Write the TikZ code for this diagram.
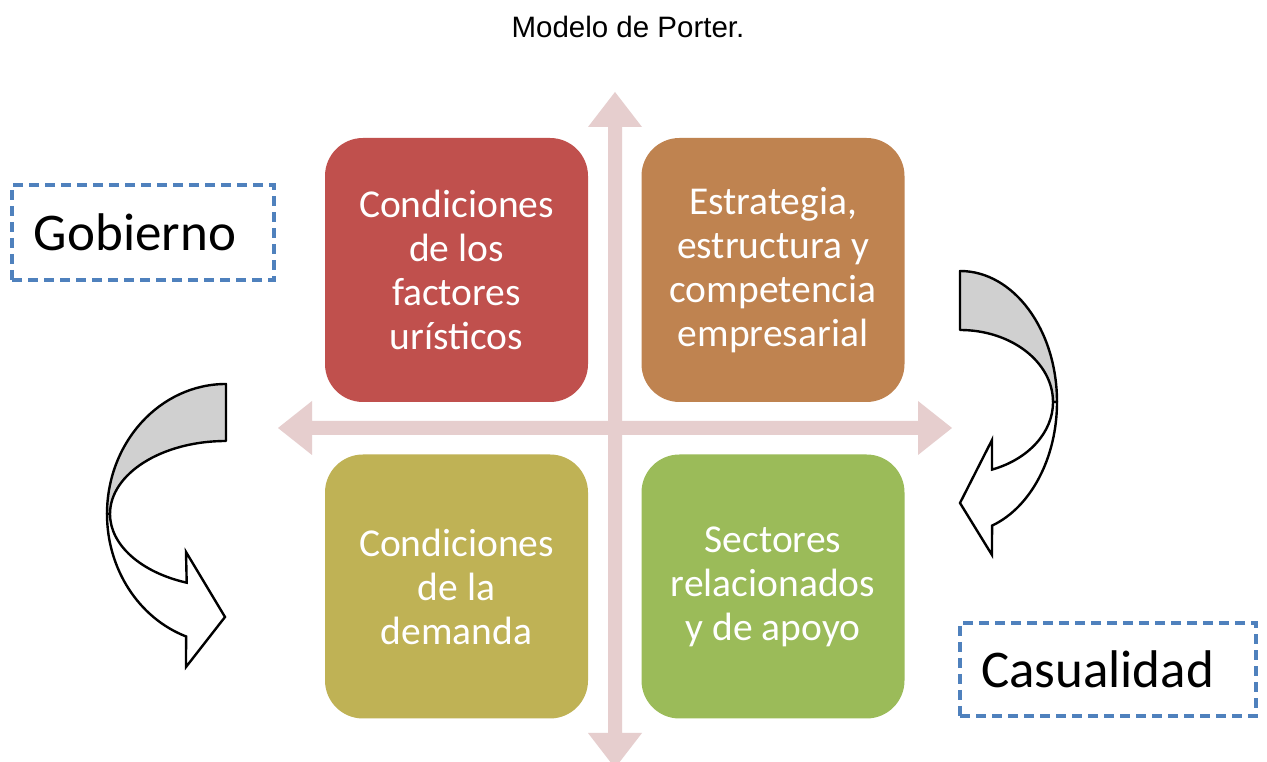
\documentclass[tikz,border=0pt]{standalone}
\usepackage{fontspec}
\setmainfont{Carlito}
\newfontfamily\arialfont{Liberation Sans}
\definecolor{qred}{HTML}{C0504D}
\definecolor{qorange}{HTML}{BF8350}
\definecolor{qolive}{HTML}{BFB255}
\definecolor{qgreen}{HTML}{9BBB59}
\definecolor{qpink}{HTML}{E6CECE}
\definecolor{qblue}{HTML}{4F81BD}
\definecolor{qgray}{HTML}{D0D0D0}
\begin{document}
\begin{tikzpicture}[x=1pt,y=1pt,
  quad/.style={rounded corners=38pt, minimum width=263pt, minimum height=264pt, inner sep=0pt,
    text=white, align=center, font=\fontsize{39.5}{44}\selectfont},
  dbox/.style={draw=qblue, line width=3.2pt, dash pattern=on 10pt off 6pt, align=left,
    inner ysep=0pt, font=\fontsize{53}{58}\selectfont},
  cross/.style={fill=qpink},
  curvback/.style={fill=qgray, draw=black, line width=2.4pt, line join=round},
  curvfront/.style={fill=white, draw=black, line width=2.4pt, line join=miter}
]
\useasboundingbox (0,0) rectangle (1267,762);
\clip (0,0) rectangle (1267,762);
\fill[white] (0,0) rectangle (1267,762);

% title
\node[font=\arialfont\fontsize{29.5}{33}\selectfont] (title) at (628,735) {Modelo de Porter.};

% cross arrows
\fill[cross] (615,670) -- (642,635) -- (622,635) -- (622,29) -- (642,29) -- (615,-6)
  -- (588,29) -- (608,29) -- (608,635) -- (588,635) -- cycle;
\fill[cross] (278,334) -- (312,361) -- (312,341) -- (918,341) -- (918,361) -- (952,334)
  -- (918,307) -- (918,327) -- (312,327) -- (312,307) -- cycle;

% quadrants
\node[quad, fill=qred] (factores) at (456.5,492) {Condiciones\\de los\\factores\\urísticos};
\node[quad, fill=qorange] (estrategia) at (773,492) {Estrategia,\\estructura y\\competencia\\empresarial};
\node[quad, fill=qolive] (demanda) at (456.5,175.5) {Condiciones\\de la\\demanda};
\node[quad, fill=qgreen] (sectores) at (773,175.5) {Sectores\\relacionados\\y de apoyo};

% dashed boxes
\node[dbox, minimum height=95pt, text width=218pt, inner xsep=22pt] (gobierno) at (143,529.5) {Gobierno};
\node[dbox, minimum height=93pt, text width=254pt, inner xsep=21pt] (casualidad) at (1108,92.5) {Casualidad};

% left curved arrow (curved right arrow)
\draw[curvback] (226,378) arc[start angle=90, end angle=180, x radius=119, y radius=130]
  -- (110,248) arc[start angle=180, end angle=90, x radius=116, y radius=73] -- cycle;
\draw[curvfront] (107,248) arc[start angle=180, end angle=250.4, x radius=119, y radius=130]
  -- (186,95) -- (225,145) -- (186,210) -- (186.7,179.3)
  arc[start angle=250.2, end angle=180, x radius=116, y radius=73] -- cycle;

% right curved arrow (curved left arrow)
\draw[curvback] (960,491) arc[start angle=90, end angle=0, x radius=97, y radius=131]
  -- (1053,360) arc[start angle=0, end angle=90, x radius=93, y radius=72] -- cycle;
\draw[curvfront] (1057,360) arc[start angle=0, end angle=-70.7, x radius=97, y radius=131]
  -- (992,207) -- (960,259) -- (992,322) -- (992,292.4)
  arc[start angle=-69.9, end angle=0, x radius=93, y radius=72] -- cycle;
\end{tikzpicture}
\end{document}
